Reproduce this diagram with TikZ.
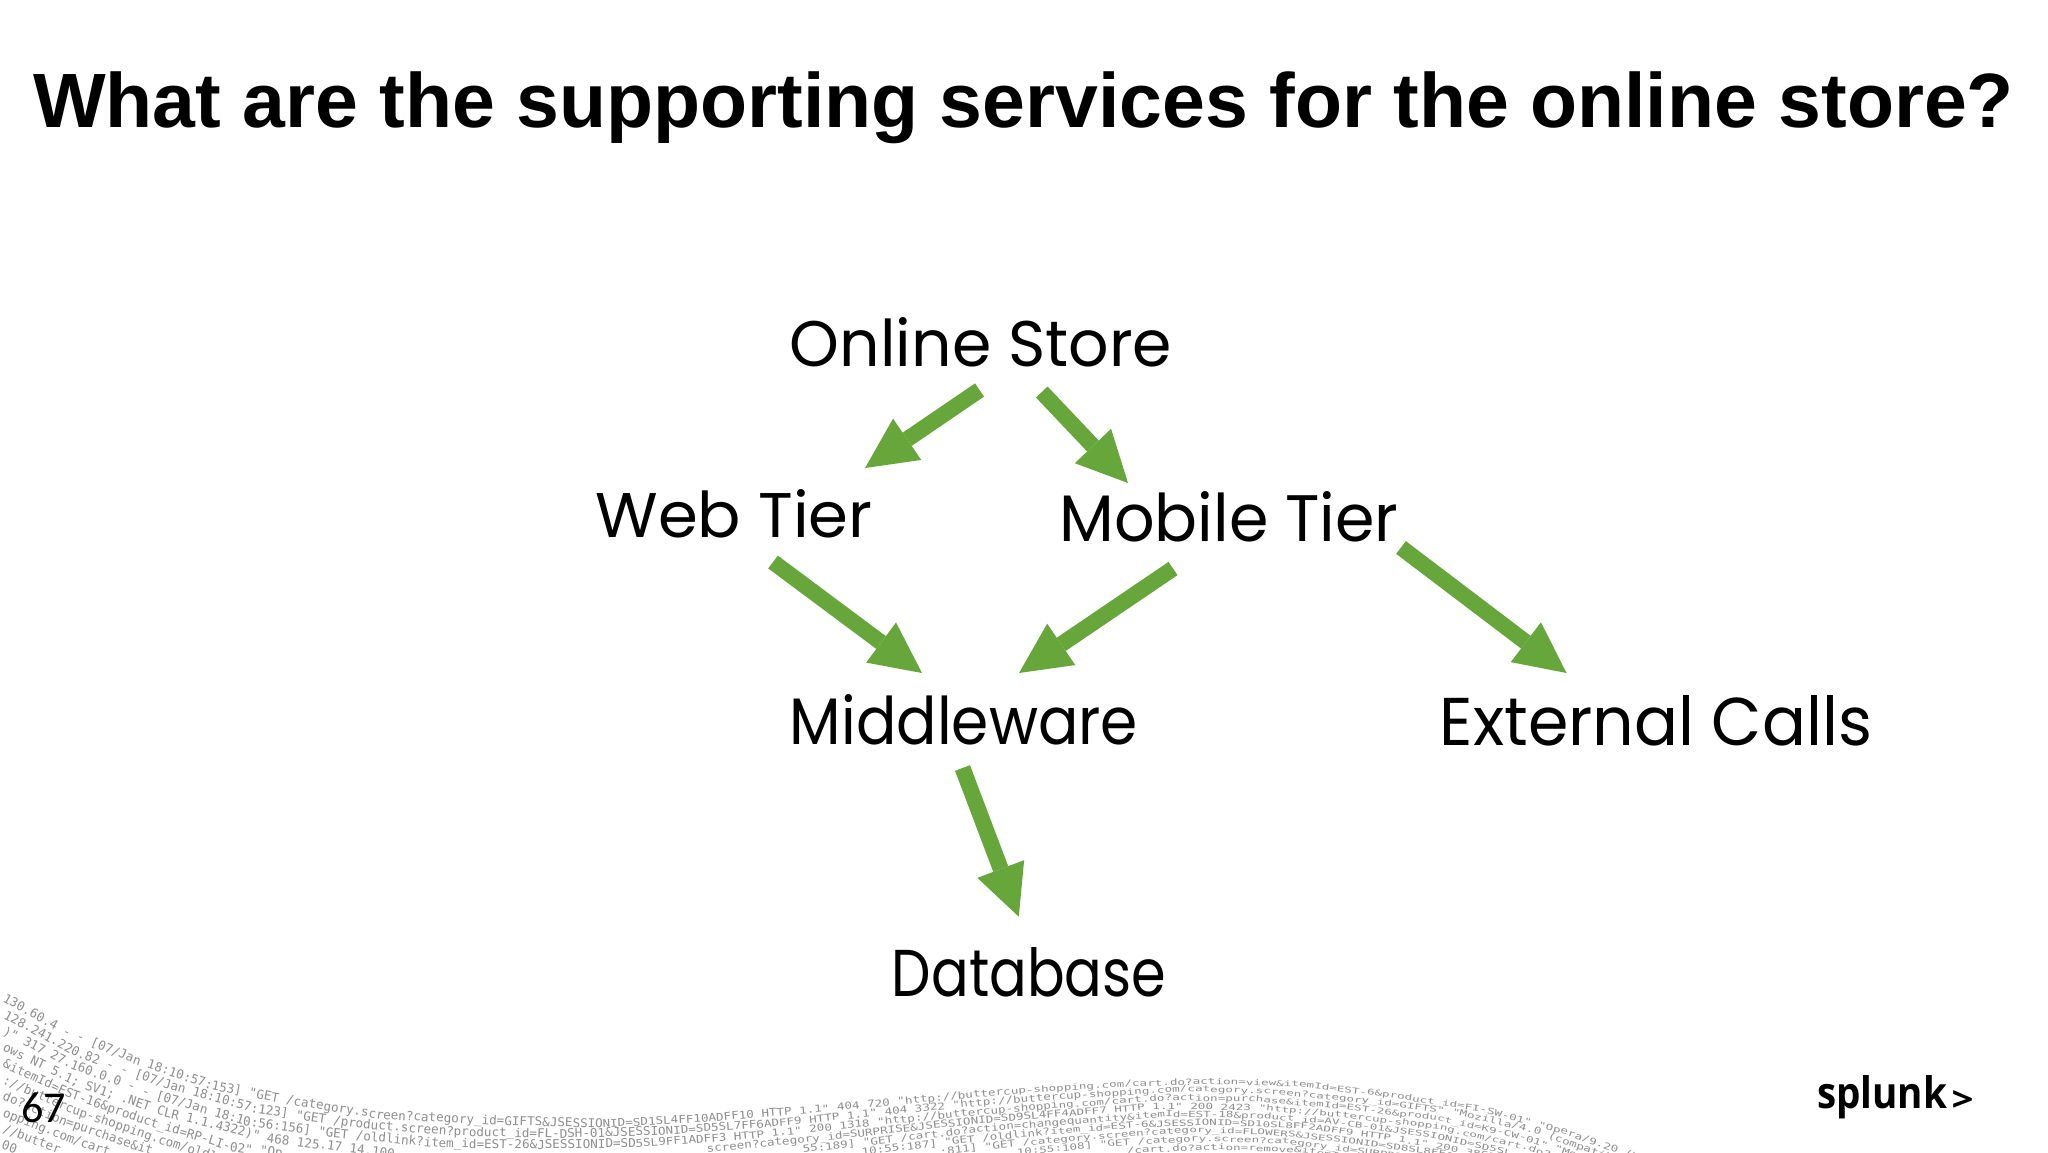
\documentclass[tikz,border=0pt]{standalone}
\usepackage{fontspec}
\usepackage{graphicx}
\usetikzlibrary{arrows.meta}
\setmainfont{Liberation Sans}
\newfontfamily\handfont{Poppins}
\newfontfamily\pagefont{Carlito}
\newfontfamily\logofont{Open Sans}
\font\rawlog="DejaVu Sans Mono" at 12.6pt
\definecolor{flowgreen}{HTML}{67A63B}
\definecolor{logc}{HTML}{8E8E8E}
\newcommand\hand[3]{\resizebox{#1pt}{#2pt}{\handfont #3}}
\newcommand\am{\char38 }
\newcommand\us{\char95 }
\newlength\chunkw
\newcounter{logn}
\newcommand\logstart[2]{\def\rowi{#1}\def\curx{#2}}
\newcommand\seg[6]{\def\xa{#1}\def\xb{#2}\def\ya{#3}\def\yb{#4}\def\sa{#5}\def\sb{#6}}
\newcommand\evalrow[1]{%
  \pgfmathsetmacro\rx{#1}%
  \ifdim\rx pt<87pt \seg{0}{87}{1000}{1048}{16.5}{14.5}%
  \else\ifdim\rx pt<227pt \seg{87}{227}{1048}{1095}{14.5}{14}%
  \else\ifdim\rx pt<400pt \seg{227}{400}{1095}{1122}{14}{12.5}%
  \else\ifdim\rx pt<600pt \seg{400}{600}{1122}{1128}{12.5}{11}%
  \else\ifdim\rx pt<740pt \seg{600}{740}{1128}{1120}{11}{10}%
  \else\ifdim\rx pt<1000pt \seg{740}{1000}{1120}{1095}{10}{8.8}%
  \else\ifdim\rx pt<1180pt \seg{1000}{1180}{1095}{1083}{8.8}{8.2}%
  \else\ifdim\rx pt<1300pt \seg{1180}{1300}{1083}{1087}{8.2}{8.2}%
  \else\ifdim\rx pt<1451pt \seg{1300}{1451}{1087}{1105}{8.2}{8.8}%
  \else\ifdim\rx pt<1532pt \seg{1451}{1532}{1105}{1123}{8.8}{9.5}%
  \else \seg{1532}{1650}{1123}{1165}{9.5}{10}%
  \fi\fi\fi\fi\fi\fi\fi\fi\fi\fi
  \pgfmathsetmacro\ry{\ya+(\rx-\xa)/(\xb-\xa)*(\yb-\ya)+\rowi*(\sa+(\rx-\xa)/(\xb-\xa)*(\sb-\sa))}%
}
\newcommand\lc[1]{%
  \settowidth\chunkw{\rawlog #1}%
  \evalrow{\curx}\let\yA\ry
  \pgfmathsetmacro\vs{min(1,\sa/13)}%
  \pgfmathsetmacro\xB{\curx+\chunkw}%
  \evalrow{\xB}\let\yB\ry
  \pgfmathsetmacro\ang{atan((\yB-\yA)/(\xB-\curx))}%
  \stepcounter{logn}%
  \node[logbit,rotate=-\ang] (log\thelogn) at (\curx,\yA) {\scalebox{1}[\vs]{#1}};%
  \pgfmathsetmacro\curx{\curx+\chunkw*cos(\ang)}%
}
\tikzset{
  label/.style={inner sep=0pt,outer sep=0pt,anchor=center},
  logbit/.style={inner sep=0pt,outer sep=0pt,anchor=base west,font=\rawlog,text=logc},
  flow/.style={draw=flowgreen,line width=16pt,line cap=butt,
    -{Triangle[length=51pt,width=50pt,line width=0pt,fill=flowgreen]}},
}
\begin{document}
\begin{tikzpicture}[x=1pt,y=-1pt]
\useasboundingbox (0,0) rectangle (2048,1152);
\fill[white] (0,0) rectangle (2048,1152);
\begin{scope}
\clip (0,0) rectangle (2048,1152);
\logstart{0}{2}
\lc{130.60.4 }\lc{- - [07/Ja}\lc{n 18:10:57:}\lc{153] "GET /}\lc{category.scr}\lc{een?category\us id}\lc{=GIFTS\am JSESSIO}\lc{NID=SD1SL4FF1}\lc{0ADFF10 HTTP }\lc{1.1" 404 720 }\lc{"http://butterc}\lc{up-shopping.co}\lc{m/cart.do?act}\lc{ion=view\am it}\lc{emId=EST-6\am p}\lc{roduct\us id=FI}\lc{-SW-01" "Op}\lc{era/9.20 }\lc{(Windows}
\logstart{1}{3}
\lc{128.241.220}\lc{.82 - - [07/}\lc{Jan 18:10:57}\lc{:123] "GET /pr}\lc{oduct.screen?}\lc{product\us id=FL-}\lc{DSH-01\am JSESSI}\lc{ONID=SD5SL7FF6}\lc{ADFF9 HTTP 1.1" }\lc{404 3322 "htt}\lc{p://buttercup-}\lc{shopping.com/}\lc{category.scr}\lc{een?category}\lc{\us id=GIFTS" }\lc{"Mozilla/4.}\lc{0 (compa}\lc{tible;}
\logstart{2}{2}
\lc{)" 317 27.}\lc{160.0.0 - - }\lc{[07/Jan 18:1}\lc{0:56:156] "G}\lc{ET /oldlink?it}\lc{em\us id=EST-26\am}\lc{JSESSIONID=SD}\lc{5SL9FF1ADFF3 H}\lc{TTP 1.1" 200 1}\lc{318 "http://bu}\lc{ttercup-shoppi}\lc{ng.com/cart.do}\lc{?action=purc}\lc{hase\am itemId=}\lc{EST-26\am produ}\lc{ct\us id=K9-CW}\lc{-01" "Mozi}\lc{lla/4.0 }\lc{(comp}
\logstart{3}{2}
\lc{ows NT 5.1;}\lc{ SV1; .NET C}\lc{LR 1.1.4322)" }\lc{468 125.17 }\lc{14.100}
\logstart{3}{707}
\lc{screen?categ}\lc{ory\us id=SURPR}\lc{ISE\am JSESSIO}\lc{NID=SD9SL4FF}\lc{4ADFF7 HTTP }\lc{1.1" 200 2423 }\lc{"http://butt}\lc{ercup-shoppi}\lc{ng.com/cart.}\lc{do?action}
\logstart{4}{2}
\lc{\am itemId=ES}\lc{T-16\am produc}\lc{t\us id=RP-LI-}\lc{02" "Op}
\logstart{4}{803}
\lc{55:189] "GET }\lc{/cart.do?act}\lc{ion=changequ}\lc{antity\am item}\lc{Id=EST-18\am pr}\lc{oduct\us id=AV}\lc{-CB-01\am JSESS}\lc{IONID=SD5SL}
\logstart{5}{2}
\lc{://butterc}\lc{up-shopping}\lc{.com/oldl}
\logstart{5}{862}
\lc{10:55:187] "G}\lc{ET /oldlink?}\lc{item\us id=EST}\lc{-6\am JSESSION}\lc{ID=SD10SL8FF}\lc{2ADFF9 HTTP }\lc{1.1" 200 38}\lc{65}
\logstart{6}{2}
\lc{do?action}\lc{=purchase\am}\lc{it}
\logstart{6}{940}
\lc{:811] "GET }\lc{/category.s}\lc{creen?categ}\lc{ory\us id=FLOW}\lc{ERS\am JSESSIO}\lc{NID=SD8SL8FF}\lc{1ADFF6}
\logstart{7}{2}
\lc{opping.co}\lc{m/cart}
\logstart{7}{1017}
\lc{10:55:108] "}\lc{GET /categor}\lc{y.screen?cat}\lc{egory\us id=SU}\lc{RPRISE}
\logstart{8}{2}
\lc{//butter}
\logstart{8}{1127}
\lc{/cart.do?act}\lc{ion=remove\am}\lc{itemId=EST-}\lc{15\am}
\logstart{9}{1}
\lc{00 -}
\end{scope}

\node[label,anchor=base] (title) at (1023.5,127) {\fontsize{77}{85}\selectfont\bfseries What are the supporting services for the online store?};

\node[label] (store) at (981,342.5) {\hand{382}{49}{Online Store}};
\node[label] (web) at (734,514) {\hand{277}{48}{Web Tier}};
\node[label] (mobile) at (1229,517) {\hand{339}{50}{Mobile Tier}};
\node[label] (middle) at (964,720) {\hand{348}{50}{Middleware}};
\node[label] (external) at (1656,721) {\hand{432}{50}{External Calls}};
\node[label] (database) at (1029,972) {\hand{274}{49}{Database}};

\coordinate (storeA) at (979.5,390);
\coordinate (webIn) at (865,468);
\coordinate (storeB) at (1041.75,392);
\coordinate (mobileIn) at (1128,483);
\coordinate (webOut) at (773,562);
\coordinate (middleA) at (922,673);
\coordinate (mobileA) at (1173,568.5);
\coordinate (middleB) at (1019,673);
\coordinate (mobileB) at (1401,547.5);
\coordinate (externalIn) at (1566.5,673);
\coordinate (middleOut) at (962.5,768);
\coordinate (databaseIn) at (1018.8,916.7);
\draw[flow] (storeA) -- (webIn);
\draw[flow] (storeB) -- (mobileIn);
\draw[flow] (webOut) -- (middleA);
\draw[flow] (mobileA) -- (middleB);
\draw[flow] (mobileB) -- (externalIn);
\draw[flow] (middleOut) -- (databaseIn);

\node[label,anchor=base west] (pagenum) at (21,1122) {\pagefont\fontsize{44}{48}\selectfont 67};
\node[label,anchor=base west] (logo) at (1817,1108) {\resizebox{130pt}{33pt}{\logofont\bfseries splunk}};
\node[label,anchor=base west] (logotip) at (1951.5,1111.7) {\resizebox{22pt}{21pt}{\logofont\bfseries >}};
\end{tikzpicture}
\end{document}
